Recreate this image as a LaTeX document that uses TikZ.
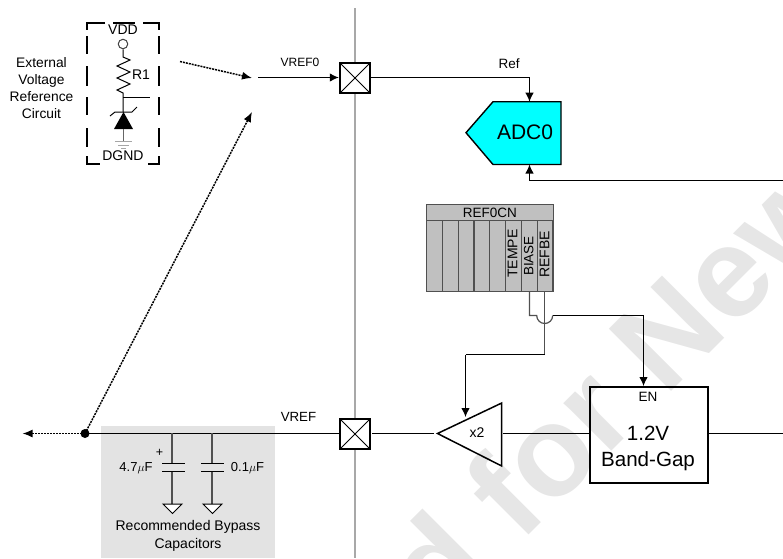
\documentclass[tikz,border=0pt]{standalone}
\usepackage{fontspec}
\setmainfont{Liberation Sans}
\usetikzlibrary{arrows.meta}
\definecolor{wm}{HTML}{E6E6E6}
\definecolor{bypass}{HTML}{E3E3E3}
\definecolor{regfill}{HTML}{C0C0C0}
\definecolor{adcfill}{HTML}{00FFFF}
\definecolor{sepline}{HTML}{A8A8A8}
\definecolor{stem}{HTML}{505050}
\tikzset{
  x=1pt,y=-1pt,
  wire/.style={draw=black,line width=1.1pt},
  arr/.style={wire,-{Latex[length=9pt,width=8.5pt]}},
  stemwire/.style={draw=stem,line width=1.2pt},
  dotarr/.style={draw=black,line width=1.5pt,dash pattern=on 2pt off 1pt,-{Latex[length=10pt,width=8pt]}},
  padbox/.style={draw=black,line width=2pt,fill=white,minimum size=30.5pt,inner sep=0pt,
    path picture={\draw[line width=1pt] (path picture bounding box.north west)--(path picture bounding box.south east)
    (path picture bounding box.north east)--(path picture bounding box.south west);}},
  lbl/.style={inner sep=0pt,font=\fontsize{14}{17}\selectfont,align=center},
  bit/.style={draw=stem,line width=1.2pt,fill=regfill,minimum width=16pt,minimum height=71pt,inner sep=0pt},
  bitlbl/.style={inner sep=0pt,rotate=90,font=\fontsize{14}{16}\selectfont,anchor=west},
  dashbox/.style={draw=black,line width=1.7pt},
}
\begin{document}
\begin{tikzpicture}
\useasboundingbox (0,0) rectangle (783,558);
\clip (0,0) rectangle (783,558);
% watermark
\node[rotate=45,text=wm,inner sep=0pt,anchor=base west,font=\bfseries\fontsize{128}{128}\selectfont] (wmark) at (439.5,623.5) {d for New};
% bypass region
\node[fill=bypass,minimum width=174pt,minimum height=132pt,inner sep=0pt,anchor=north west] (bypassbg) at (101,426) {};
% separator
\coordinate (septop) at (355,8);
\coordinate (sepbot) at (355,558);
\draw[draw=sepline,line width=1.2pt] (septop)--(sepbot);
% external circuit: dashed frame
\draw[dashbox] (105,23)--(87,23)--(87,29.5) (87,36)--(87,54) (87,66)--(87,86) (87,97)--(87,115) (87,128)--(87,147) (87,156)--(87,164)--(100,164);
\draw[dashbox] (143,23)--(159,23)--(159,29.5) (159,36)--(159,54) (159,66)--(159,86) (159,97)--(159,115) (159,128)--(159,147) (159,156)--(159,164)--(148,164);
\draw[dashbox] (113,23)--(135,23);
\node[lbl] (vdd) at (123,30) {VDD};
\node[lbl] (dgnd) at (123,156) {DGND};
\node[lbl] (r1) at (141,75) {R1};
\node[lbl,font=\fontsize{13.8}{17}\selectfont] (ext) at (41.5,88.5) {External\\Voltage\\Reference\\Circuit};
\node[draw=black!75,line width=1pt,circle,fill=white,minimum size=9.5pt,inner sep=0pt] (vddc) at (123,44) {};
\draw[line width=1pt,line join=miter] (vddc.south)--(123,57)--(130,60)--(117,66)--(130,72)--(117,78)--(130,84)--(117,90)--(123,93)--(123,112);
\coordinate (tap) at (123,97.5); \coordinate (tapend) at (150,97.5);
\draw[line width=1pt] (tap)--(tapend);
\draw[line width=1pt] (110,116)--(115,112)--(132,112)--(137,107);
\path[fill=black] (123.5,112)--(133,129)--(114,129)--cycle;
\draw[line width=1pt,draw=black!60] (123,129)--(123,141);
\draw[line width=1pt,draw=black!35] (115,141)--(132,141) (118,145)--(129,145) (121,148.5)--(126,148.5);
% top pad
\node[padbox] (pad0) at (355,78) {};
\coordinate (vref0in) at (258,77.5);
\coordinate (extarrowin) at (180,61.5);
\coordinate (extarrowend) at (252,78);
\draw[dotarr] (extarrowin)--(extarrowend);
\draw[arr] (vref0in)--(pad0.west|-vref0in);
\node[lbl,font=\fontsize{12}{14}\selectfont] (vref0) at (300,62) {VREF0};
\node[lbl,font=\fontsize{13.5}{15}\selectfont] (ref) at (509,64) {Ref};
% ADC
\path[draw=black,line width=1.4pt,fill=adcfill] (493,101.7)--(561,101.7)--(561,164.5)--(493,164.5)--(466,132.7)--cycle;
\coordinate (adcn) at (529.5,101.7);
\coordinate (adcs) at (529.5,164.5);
\node[inner sep=0pt,font=\fontsize{21}{24}\selectfont] (adc) at (525,132) {ADC0};
\coordinate (pad0out) at (371,77.5);
\draw[arr] (pad0out)-|(adcn);
\coordinate (adcright) at (783,180.5);
\draw[arr] (adcright)-|(adcs);
% register
\node[draw=stem,line width=1.2pt,fill=regfill,minimum width=126.5pt,minimum height=16pt,inner sep=0pt,anchor=north west,font=\fontsize{13.5}{15}\selectfont] (regt) at (426,204) {REF0CN};
\foreach \i in {0,...,7}{
  \node[bit,anchor=north west,minimum width=15.8pt] (b\i) at (426+\i*15.8,220) {};
}
\node[bitlbl] (tempe) at (512.5,278) {TEMPE};
\node[bitlbl,font=\fontsize{13.5}{16}\selectfont] (biase) at (528.7,276) {BIASE};
\node[bitlbl] (refbe) at (544.5,278) {REFBE};
% lower wires
\node[padbox] (pad1) at (355,434) {};
\path[draw=black,line width=1.5pt,fill=none] (501.7,403)--(501.7,466)--(437.5,433.5)--cycle;
\coordinate (ampw) at (434,433.5); \coordinate (ampe) at (503,433.5); \coordinate (ampn) at (465.5,417);
\node[lbl] (x2) at (477,433) {x2};
\node[draw=black,line width=1.7pt,fill=none,minimum width=118pt,minimum height=96pt,inner sep=0pt,anchor=north west] (bg) at (589,386) {};
\node[lbl,font=\fontsize{13.5}{16}\selectfont] (en) at (648,397) {EN};
\node[inner sep=0pt,align=center,font=\fontsize{20.6}{26}\selectfont] (bgtxt) at (648,448) {1.2V\\Band-Gap};
\coordinate (bgright) at (783,433.5);
\coordinate (jun) at (85,433.5);
\coordinate (leftend) at (22.5,433.5);
\coordinate (bgout) at (708,433.5);
\coordinate (bgin) at (589,433.5);
\coordinate (pad1e) at (371.5,433.5);
\coordinate (pad1w) at (339,433.5);
\draw[wire] (bgout)--(bgright);
\draw[wire] (ampe)--(bgin);
\draw[wire] (ampw)--(pad1e);
\draw[wire] (pad1w)--(jun);
\fill (jun) circle (4.5pt);
\draw[dotarr] (jun)--(leftend);
\coordinate (dtip) at (252,112);
\draw[dotarr] (jun)--(dtip);
\node[lbl,font=\fontsize{13.3}{15}\selectfont] (vref) at (298.5,417) {VREF};
% register wires
\coordinate (j1) at (529.5,291); \coordinate (j2) at (529.5,315.5); \coordinate (h1) at (536.7,315.5); \coordinate (h2) at (552.7,315.5);
\coordinate (j3) at (643.5,315.5);
\coordinate (bgn) at (643.5,386);
\draw[stemwire] (j1)--(j2)--(h1) arc (180:0:8);
\draw[wire] (h2)--(j3);
\draw[arr] (j3)--(bgn);
\coordinate (r1a) at (544.7,291); \coordinate (r1b) at (544.7,354.5); \coordinate (r1c) at (465.5,354.5);
\draw[stemwire] (r1a)--(r1b);
\draw[wire] (r1b)--(r1c);
\draw[arr] (r1c)--(ampn);
% capacitors
\coordinate (c1t) at (172,433); \coordinate (c2t) at (212,433);
\draw[stemwire] (c1t)--(172,463) (172,472)--(172,504);
\draw[stemwire] (c2t)--(212,463) (212,472)--(212,504);
\draw[line width=1.2pt] (162,463.5)--(185,463.5) (162,471.5)--(185,471.5);
\draw[line width=1.2pt] (201,463.5)--(224,463.5) (201,471.5)--(224,471.5);
\draw[line width=1pt,fill=white] (163,504)--(182,504)--(172.5,513.5)--cycle;
\draw[line width=1pt,fill=white] (203,504)--(222,504)--(212.5,513.5)--cycle;
\node[lbl,font=\fontsize{12.5}{14}\selectfont] (plus) at (159.5,453) {+};
\node[lbl,font=\fontsize{13}{15}\selectfont] (c47) at (136,468) {4.7$\mu$F};
\node[lbl,font=\fontsize{13}{15}\selectfont] (c01) at (247.5,468) {0.1$\mu$F};
\node[lbl,font=\fontsize{14}{18}\selectfont] (rec) at (188,536) {Recommended Bypass\\Capacitors};
\end{tikzpicture}
\end{document}
